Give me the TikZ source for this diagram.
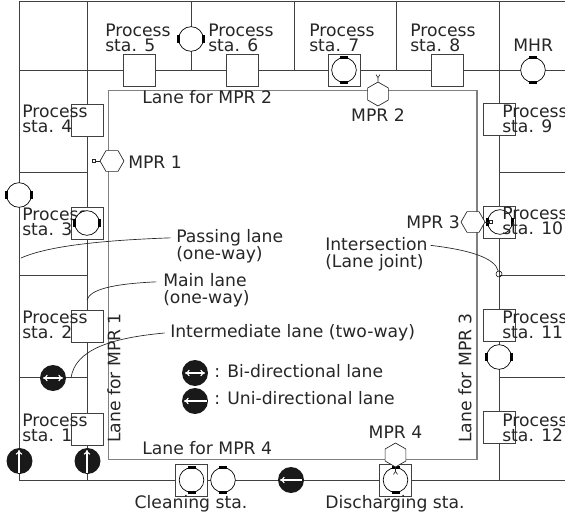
\documentclass[tikz,border=0pt]{standalone}
\usepackage{fontspec}
\setmainfont{DejaVu Sans}
\usepackage{xcolor}
\usetikzlibrary{arrows.meta,positioning,shapes.geometric}
\definecolor{lineink}{gray}{0.25}
\definecolor{laneink}{gray}{0.5}

\begin{document}
\begin{tikzpicture}[x=0.75pt,y=-0.75pt,
    lbl/.style={font=\fontsize{12.9}{11.25}\selectfont, align=left, anchor=west, inner sep=0pt, text=black!85},
    lblwide/.style={lbl, font=\fontsize{12.9}{13}\selectfont},
    lane/.style={lineink, line width=0.6pt},
    guide/.style={laneink, line width=0.8pt},
    leader/.style={black!85, line width=0.5pt},
    stabox/.style={draw=lineink, fill=white, line width=0.6pt, minimum size=24pt, inner sep=0pt},
    mcirc/.style={circle, draw=black, fill=white, line width=0.5pt, minimum size=18.5pt, inner sep=0pt},
    blk/.style={circle, fill=black!90, minimum size=19.5pt, inner sep=0pt},
    hexa/.style={regular polygon, regular polygon sides=6, draw=black!85, fill=white, line width=0.5pt, minimum size=18pt, inner sep=0pt},
    wht/.style={white, line width=0.8pt, -{To[length=3.5pt,width=5pt]}},
    whtboth/.style={wht, {To[length=3.5pt,width=5pt]}-{To[length=3.5pt,width=5pt]}},
  ]
  \useasboundingbox (0,0) rectangle (565,518);
  % Outer frame and lanes
  \draw[lane] (565,1) -- (19,1) -- (19,480) -- (565,480);
  \draw[lane] (19,70) -- (565,70);
  \draw[lane] (87,1) -- (87,480);
  \draw[lane] (499,1) -- (499,480);
  \foreach \x in {191,294,396}{
    \draw[lane] (\x,1) -- (\x,70);
  }
  \foreach \y in {172,275,377}{
    \draw[lane] (19,\y) -- (87,\y);
    \draw[lane] (499,\y) -- (565,\y);
  }
  \draw[guide] (108.5,90.5) rectangle (477,459.5);

  % Station boxes
  \foreach \n/\x/\y in {1/87/429,2/87/326,3/87/223,4/87/120,5/139/70,6/242/70,7/344/70,8/447/70,
                        9/499.5/119.5,10/499.5/222,11/499.5/325.5,12/499.5/427.5}{
    \node[stabox] (sta\n) at (\x,\y) {};
  }
  \node[stabox] (staClean) at (191.5,480.5) {};
  \node[stabox] (staDis) at (395.5,480.5) {};

  % Machines: the angle turns the two black marks
  \foreach \n/\x/\y/\a in {a/191/39/0,b/19/195/0,d/500/222/0,e/499/357/0,
                           f/344/70/90,g/533/70/90,h/191.5/480/90,i/223/480/90,j/395.5/480/90}{
    \node[mcirc] (mach\n) at (\x,\y) {};
    \begin{scope}[shift={(\x,\y)},rotate=\a]
      \fill[black] (-14,-4) rectangle (-11,4);
      \fill[black] (11,-4) rectangle (14,4);
    \end{scope}
  }

  % Black lane symbols
  \foreach \n/\x/\y in {a/19.5/461,b/87.5/461,c/53/378,d/291/480,e/195/373,f/195/401}{
    \node[blk] (sym\n) at (\x,\y) {};
  }
  \draw[wht] (19,473) -- (19,450);
  \draw[wht] (87,473) -- (87,450);
  \draw[whtboth] (43,378) -- (63,378);
  \draw[wht] (302,480) -- (280,480);
  \draw[whtboth] (185,373) -- (205,373);
  \draw[wht] (207,401) -- (184,401);

  % Robots with their small grippers
  \node[hexa] (mpr1) at (112,161) {};
  \node[hexa,regular polygon rotate=30] (mpr2) at (378,94) {};
  \node[hexa] (mpr3) at (473,222) {};
  \node[hexa,regular polygon rotate=30] (mpr4) at (395.5,455) {};
  \draw[leader] (mpr1.corner 3) -- ++(-4,0) ++(0,-1.5) rectangle ++(-3,3);
  \draw[leader] (mpr2.corner 1) -- ++(0,-4) -- ++(-2,-3) ++(2,3) -- ++(2,-3);
  \draw[leader] (mpr3.corner 6) -- ++(4,0) ++(0,-1.5) rectangle ++(3,3);
  \draw[leader] (mpr4.corner 4) -- ++(0,4) -- ++(-2,3) ++(2,-3) -- ++(2,3);

  % Labels
  \foreach \n/\x/\y in {1/22/428,2/22/325,3/22/222,4/22/119,5/105/38,6/208/38,7/309/38,8/410/38,
                        9/502/119,10/502/221,11/502/325,12/502/428}{
    \node[lbl] (lbl\n) at (\x,\y) {Process\\sta. \n};
  }
  \node[lbl] (lblHandler) at (513,45) {MHR};
  \node[lbl] (lblLane2) at (142,97) {Lane for MPR 2};
  \node[lbl] (lblLane4) at (142,448) {Lane for MPR 4};
  \node[lbl,anchor=center,rotate=90] (lblLane1) at (114,378) {Lane for MPR 1};
  \node[lbl,anchor=center,rotate=90] (lblLane3) at (465,378) {Lane for MPR 3};
  \node[lbl] (lblMpr1) at (128,162) {MPR 1};
  \node[lbl,anchor=center] (lblMpr2) at (378,115) {MPR 2};
  \node[lbl] (lblMpr3) at (406,222) {MPR 3};
  \node[lbl,anchor=center] (lblMpr4) at (395.5,432) {MPR 4};
  \node[lblwide] (lblPass) at (176,246.5) {Passing lane\\(one-way)};
  \node[lblwide] (lblMain) at (163,290.5) {Main lane\\(one-way)};
  \node[lbl] (lblInter) at (170,333) {Intermediate lane (two-way)};
  \node[lblwide] (lblJoint) at (325,254) {Intersection\\(Lane joint)};
  \node[lbl] (lblBi) at (214,371) {: Bi-directional lane};
  \node[lbl] (lblUni) at (214,398) {: Uni-directional lane};
  \node[lbl,anchor=center] (lblClean) at (191,504) {Cleaning sta.};
  \node[lbl,anchor=center] (lblDis) at (395,504) {Discharging sta.};

  % This machine sits on top of its label
  \node[mcirc] (machc) at (87,223) {};
  \fill[black] (73,219) rectangle (76,227);
  \fill[black] (98,219) rectangle (101,227);

  % Leaders
  \coordinate (endPass) at (21,258);
  \coordinate (endMain) at (87,300);
  \coordinate (endInter) at (71,378);
  \node[circle,draw=black,line width=0.4pt,minimum size=4.5pt,inner sep=0pt] (joint) at (499,274) {};
  \draw[leader] ([xshift=-4pt,yshift=6.5pt]lblPass.west) .. controls (110,240) and (50,245) .. (endPass);
  \draw[leader] ([xshift=-5pt,yshift=6.5pt]lblMain.west) .. controls (110,284) and (90,290) .. (endMain);
  \draw[leader] ([xshift=-4pt]lblInter.west) .. controls (110,338) and (75,350) .. (endInter);
  \draw[leader] ([xshift=2pt,yshift=6.5pt]lblJoint.east) .. controls (470,250) and (495,258) .. (joint);
\end{tikzpicture}
\end{document}
